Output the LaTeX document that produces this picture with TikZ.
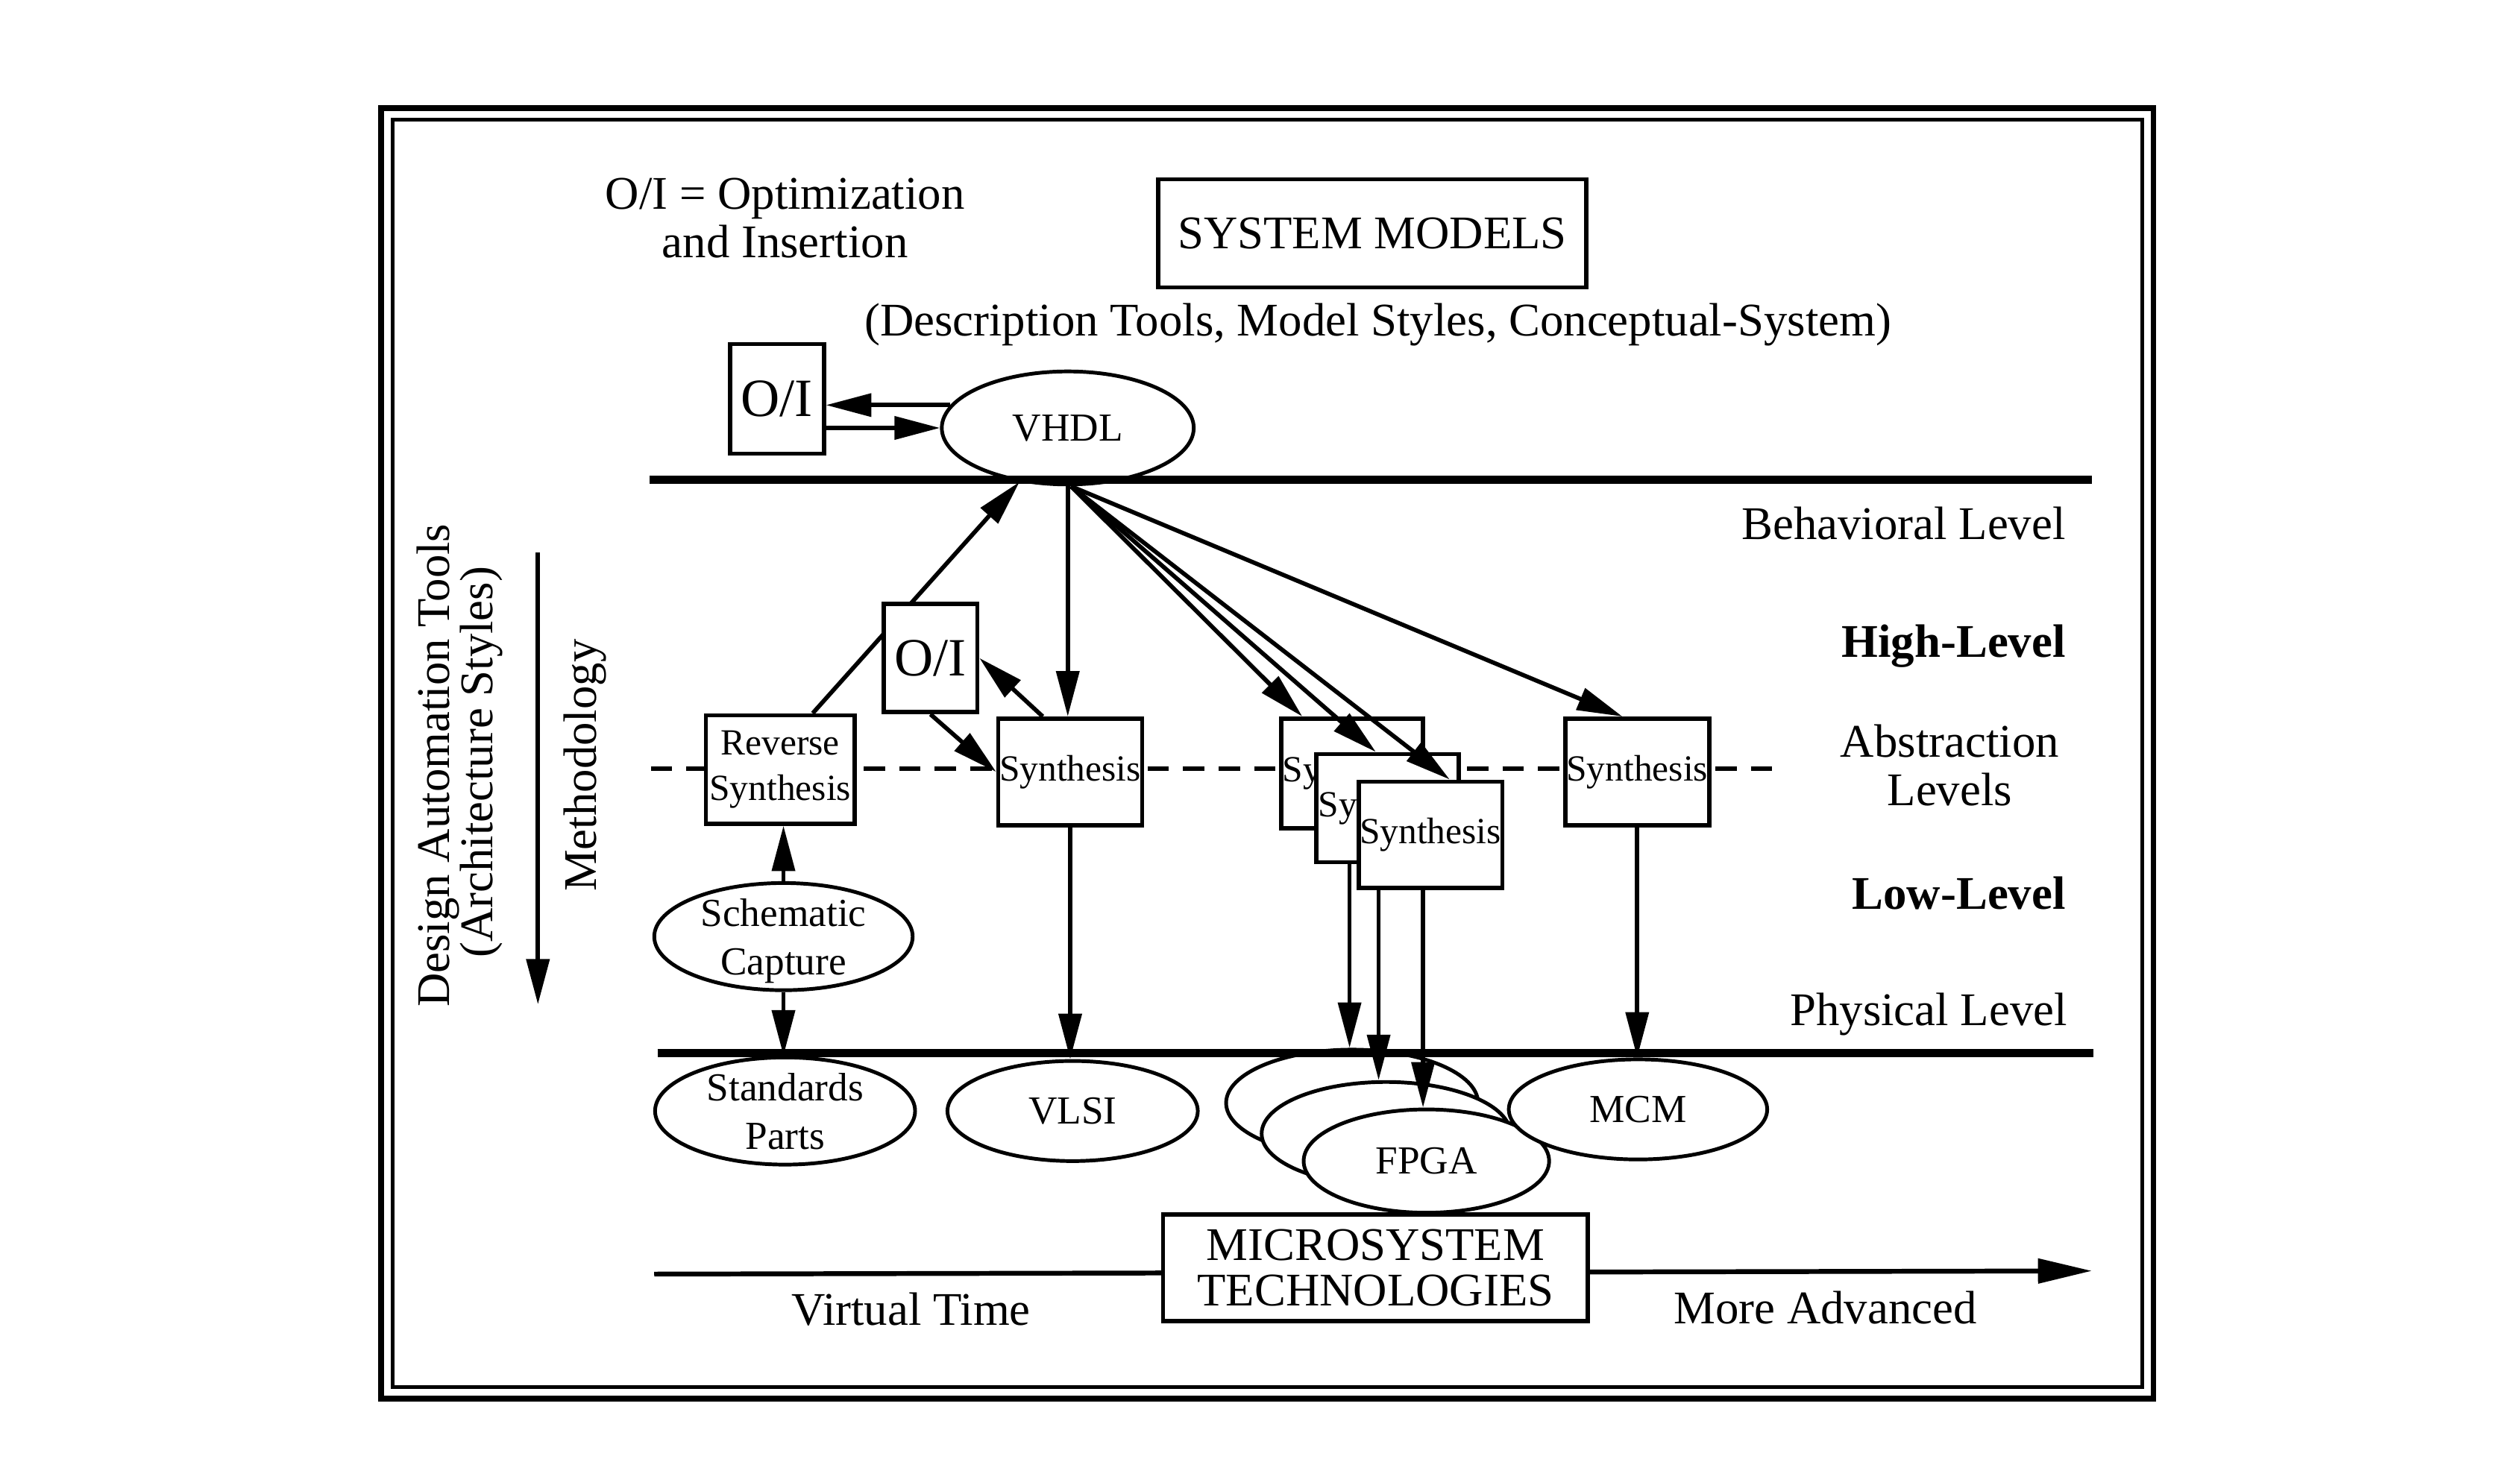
\documentclass[tikz,border=0pt]{standalone}
\usepackage{fontspec}
\setmainfont{Liberation Serif}
\usetikzlibrary{arrows.meta,calc,shapes.geometric}
\begin{document}
\begin{tikzpicture}[x=0.02cm,y=-0.02cm,
  box/.style={draw,line width=1.5pt,fill=white,rectangle,inner sep=0pt,align=center},
  ell/.style={draw,line width=1.3pt,fill=white,ellipse,inner sep=0pt,align=center},
  arr/.style={line width=1.5pt,-{Triangle[length=16pt,width=8pt]}},
  lvl/.style={line width=2.9pt},
  bigt/.style={inner sep=0pt,align=center,font=\fontsize{16.5}{17}\selectfont},
  boldt/.style={inner sep=0pt,align=center,font=\fontsize{16.5}{17}\selectfont\bfseries},
  syt/.style={font=\fontsize{13}{16}\selectfont},
  elt/.style={font=\fontsize{14}{17}\selectfont},
  oit/.style={font=\fontsize{19}{20}\selectfont}]
\useasboundingbox (0,0) rectangle (1560,905);
\fill[white] (0,0) rectangle (1560,905);
% frame
\draw[line width=2pt] (236,67) rectangle (1333,866);
\draw[line width=1.4pt] (243,74) rectangle (1326,859);
% dashed abstraction line
\draw[line width=1.4pt,dash pattern=on 7.5pt off 5pt] (403,476) -- (1105,476);
% bottom time arrow
\coordinate (t1) at (405,789);
\coordinate (t2) at (1295,787);
\draw[line width=1.7pt,-{Triangle[length=19pt,width=8.5pt]}] (t1) -- (t2);
% methodology arrow
\coordinate (m1) at (333,342);
\coordinate (m2) at (333,622);
\draw[arr,line width=1.6pt] (m1) -- (m2);

% texts
\node[bigt] (oidef) at (486,135) {O/I = Optimization\\and Insertion};
\node[box,minimum width=5.3cm,minimum height=1.34cm,font=\fontsize{16.5}{17}\selectfont] (sysm) at (849.5,144.5) {SYSTEM MODELS};
\node[bigt] (desc) at (853,201) {(Description Tools, Model Styles, Conceptual-System)};
\node[bigt,anchor=east] (beh) at (1279,324) {Behavioral Level};
\node[boldt,anchor=east] (hl) at (1279,400) {High-Level};
\node[bigt] (abs) at (1207,474) {Abstraction\\Levels};
\node[boldt,anchor=east] (ll) at (1279,553) {Low-Level};
\node[bigt,anchor=east] (phy) at (1280,628) {Physical Level};
\node[bigt,rotate=90] (dat) at (271,474) {Design Automation Tools};
\node[bigt,rotate=90] (ars) at (298,472) {(Architecture Styles)};
\node[bigt,rotate=90] (meth) at (362,474) {Methodology};
\node[bigt] (vt) at (564,811) {Virtual Time};
\node[bigt] (ma) at (1130,810) {More Advanced};

% top part
\node[box,oit,minimum width=1.16cm,minimum height=1.36cm] (oi1) at (481,247) {O/I};
\node[ell,elt,minimum width=3.12cm,minimum height=1.4cm] (vhdl) at (661,265) {VHDL};

% nodes of middle
\node[box,syt,minimum width=1.84cm,minimum height=1.34cm] (rs) at (483,476.5) {Reverse\\Synthesis};
\draw[arr] (rs.60) -- (vhdl);
\node[box,oit,minimum width=1.16cm,minimum height=1.34cm] (oi2) at (576,407.5) {O/I};
\node[box,syt,minimum width=1.78cm,minimum height=1.32cm] (sv) at (662.5,478) {Synthesis};
\node[box,syt,minimum width=1.76cm,minimum height=1.36cm,text width=1.72cm,align=left] (b1) at (837,479) {Sy};
\node[box,syt,minimum width=1.76cm,minimum height=1.34cm,text width=1.72cm,align=left] (b2) at (859,500.5) {Sy};
\node[box,syt,minimum width=1.78cm,minimum height=1.32cm] (b3) at (885.5,517) {Synthesis};
\node[box,syt,minimum width=1.78cm,minimum height=1.32cm] (sm) at (1013.5,478) {Synthesis};

% ellipses
\node[ell,elt,minimum width=3.2cm,minimum height=1.32cm,text depth=-0.1cm] (sc) at (485,580) {Schematic\\Capture};
\node[ell,elt,minimum width=3.22cm,minimum height=1.32cm,text depth=-0.1cm] (sp) at (486,688) {Standards\\Parts};
\node[ell,elt,minimum width=3.1cm,minimum height=1.24cm] (vlsi) at (664,688) {VLSI};
\node[ell,elt,minimum width=3.12cm,minimum height=1.32cm] (e1) at (837,683) {};
\node[ell,elt,minimum width=3.08cm,minimum height=1.28cm] (e2) at (858,702) {};
\node[ell,elt,minimum width=3.04cm,minimum height=1.28cm] (e3) at (883,719) {FPGA};
\node[ell,elt,minimum width=3.2cm,minimum height=1.24cm] (mcm) at (1014,687) {MCM};
\node[box,minimum width=5.26cm,minimum height=1.32cm,font=\fontsize{16.5}{16}\selectfont] (mt) at (851.5,785) {MICROSYSTEM\\TECHNOLOGIES};

% level lines
\draw[lvl] (402,297) -- (1295,297);
\draw[lvl] (407,652) -- (1296,652);

% arrows
\draw[arr] (vhdl.169) -- (oi1.east |- vhdl.169);
\draw[arr] (oi1.east |- vhdl.west) -- (vhdl.west);
\draw[arr] (vhdl.south) -- (vhdl.south |- sv.north);
\draw[arr] (oi2.south) -- (sv.west);
\draw[arr] ($(sv.north)+(-17,0)$) -- (oi2.east);
\coordinate (vo) at ($(vhdl.south)+(2,0)$);
\draw[arr] (vo) -- ($(b1.north west)!0.16!(b1.north east)$);
\draw[arr] (vo) -- ($(b2.north west)!0.42!(b2.north east)$);
\draw[arr] (vo) -- ($(b3.north west)!0.63!(b3.north east)$);
\draw[arr] (vo) -- ($(sm.north west)!0.40!(sm.north east)$);
\coordinate (d1) at ($(b2.south west)!0.24!(b2.south east)$);
\coordinate (d2) at ($(b3.south west)!0.15!(b3.south east)$);
\coordinate (d3) at ($(b3.south west)!0.45!(b3.south east)$);
\draw[arr] (d1) -- (d1 |- e1.north);
\draw[arr] (d2) -- (d2 |- e2.north);
\draw[arr] (d3) -- (d3 |- e3.north);
\draw[arr] (sm.south) -- (sm.south |- mcm.north);
\draw[arr] (sv.south) -- (sv.south |- vlsi.north);
\draw[arr] (sc.north) -- (sc.north |- rs.south);
\draw[arr] (sc.south) -- (sc.south |- sp.north);
\end{tikzpicture}
\end{document}
